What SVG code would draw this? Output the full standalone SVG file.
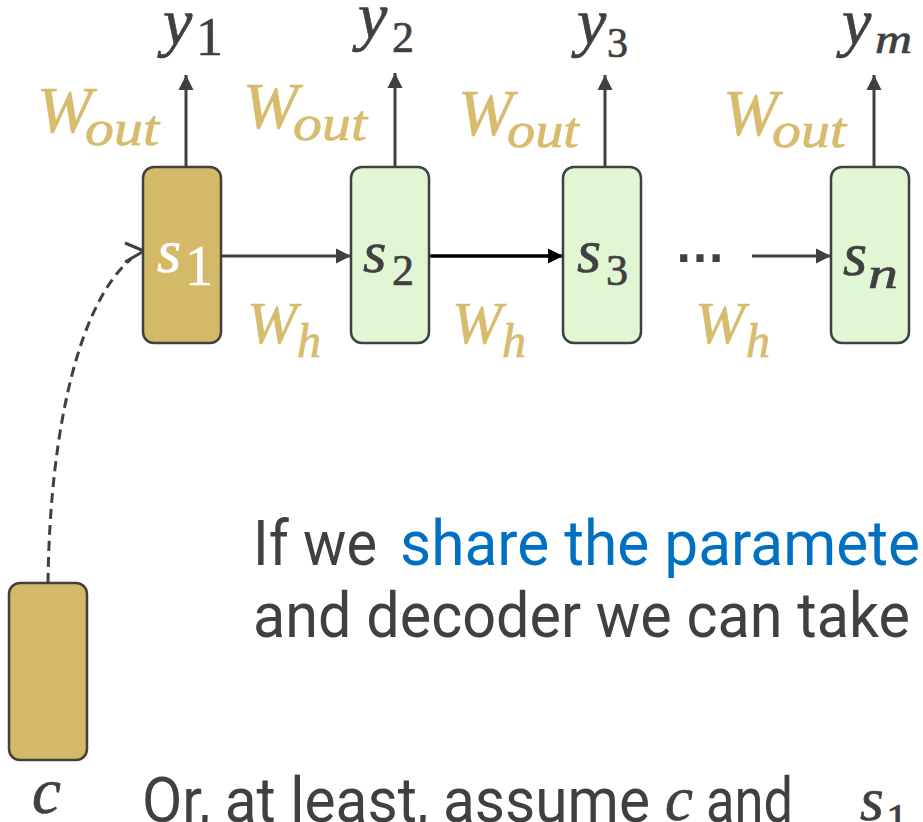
<svg xmlns="http://www.w3.org/2000/svg" width="923" height="822" viewBox="0 0 923 822">
<defs>
<style>
.box{stroke:#404040;stroke-width:2.5}
.tan{fill:#D4B968}
.grn{fill:#E1F6D2}
.m{font-family:"Liberation Serif","DejaVu Serif",serif;font-style:italic;stroke-width:0.7}
.dk{fill:#404040;stroke:#404040}
.gold{fill:#D6BC6C;stroke:#D6BC6C}
.wt{fill:#FFFFFF;stroke:#FFFFFF}
.sans{font-family:Roboto,"Noto Sans",sans-serif;font-size:63px}
.sans.dk{stroke:none}
.ln{stroke:#404040;stroke-width:3;fill:none}
</style>
<marker id="ah" markerWidth="16" markerHeight="16" refX="15" refY="8" orient="auto" markerUnits="userSpaceOnUse"><path d="M0,0.5 L15,8 L0,15.5 z" fill="#404040"/></marker>
<marker id="ahb" markerWidth="16" markerHeight="16" refX="15" refY="8" orient="auto" markerUnits="userSpaceOnUse"><path d="M0,0.5 L15,8 L0,15.5 z" fill="#000000"/></marker>
</defs>
<rect width="923" height="822" fill="#FFFFFF"/>

<g id="connectors">
<line class="ln" x1="186" y1="167" x2="186" y2="75" marker-end="url(#ah)"/>
<line class="ln" x1="395" y1="167" x2="395" y2="73" marker-end="url(#ah)"/>
<line class="ln" x1="605" y1="167" x2="605" y2="75" marker-end="url(#ah)"/>
<line class="ln" x1="874" y1="167" x2="874" y2="75" marker-end="url(#ah)"/>
<line class="ln" x1="221" y1="256" x2="351" y2="256" marker-end="url(#ah)"/>
<line x1="429" y1="256" x2="563" y2="256" stroke="#000000" stroke-width="3.5" marker-end="url(#ahb)"/>
<line class="ln" x1="752" y1="256" x2="831" y2="256" marker-end="url(#ah)"/>
<path class="ln" d="M48,583 C50,420 82,300 131,259" stroke-dasharray="10 6" stroke-width="3.2"/>
<polyline class="ln" points="125,243 144,251 125,262" stroke-linejoin="miter"/>
</g>

<g id="node-s1">
<rect class="box tan" x="143" y="167" width="78" height="176" rx="11"/>
<text class="m wt" x="157" y="272" font-size="62">s</text>
<text class="m wt" x="185" y="285" font-size="56" style="font-style:normal">1</text>
</g>
<g id="node-s2">
<rect class="box grn" x="351" y="167" width="78" height="176" rx="11"/>
<text class="m dk" x="363" y="272" font-size="60">s</text>
<text class="m dk" x="392" y="285" font-size="44" style="font-style:normal">2</text>
</g>
<g id="node-s3">
<rect class="box grn" x="563" y="167" width="78" height="176" rx="11"/>
<text class="m dk" x="577" y="272" font-size="62">s</text>
<text class="m dk" x="606" y="285" font-size="44" style="font-style:normal">3</text>
</g>
<g id="node-sn">
<rect class="box grn" x="831" y="167" width="78" height="176" rx="11"/>
<text class="m dk" x="843" y="275" font-size="62">s</text>
<text class="m dk" x="868" y="288" font-size="44" textLength="30" lengthAdjust="spacingAndGlyphs">n</text>
</g>
<g id="node-c">
<rect class="box tan" x="9" y="583" width="78" height="177" rx="11"/>
<text class="m dk" x="32" y="813" font-size="65">c</text>
</g>

<g id="outputs">
<text class="m dk" x="163" y="44" font-size="66">y</text>
<text class="m dk" x="196" y="55" font-size="54" style="font-style:normal">1</text>
<text class="m dk" x="358" y="38" font-size="66">y</text>
<text class="m dk" x="392" y="52" font-size="44" style="font-style:normal">2</text>
<text class="m dk" x="577" y="44" font-size="66">y</text>
<text class="m dk" x="607" y="57" font-size="42" style="font-style:normal">3</text>
<text class="m dk" x="842" y="44" font-size="66">y</text>
<text class="m dk" x="875" y="53" font-size="42" textLength="37" lengthAdjust="spacingAndGlyphs">m</text>
</g>

<g id="weights">
<text class="m gold" x="37" y="132" font-size="66">W</text>
<text class="m gold" x="85" y="145" font-size="50" textLength="74" lengthAdjust="spacingAndGlyphs">out</text>
<text class="m gold" x="243" y="128" font-size="66">W</text>
<text class="m gold" x="293" y="140" font-size="50" textLength="74" lengthAdjust="spacingAndGlyphs">out</text>
<text class="m gold" x="458" y="135" font-size="66">W</text>
<text class="m gold" x="507" y="147" font-size="50" textLength="72" lengthAdjust="spacingAndGlyphs">out</text>
<text class="m gold" x="723" y="135" font-size="66">W</text>
<text class="m gold" x="772" y="147" font-size="50" textLength="74" lengthAdjust="spacingAndGlyphs">out</text>
<text class="m gold" x="247" y="343" font-size="60">W</text>
<text class="m gold" x="297" y="357" font-size="48">h</text>
<text class="m gold" x="452" y="343" font-size="60">W</text>
<text class="m gold" x="502" y="357" font-size="48">h</text>
<text class="m gold" x="695" y="343" font-size="60">W</text>
<text class="m gold" x="746" y="357" font-size="48">h</text>
<text x="700" y="262" font-family="Liberation Sans, sans-serif" font-weight="bold" font-size="51" text-anchor="middle" fill="#404040">…</text>
</g>

<g id="text">
<text class="sans dk" x="253" y="565" textLength="124" lengthAdjust="spacingAndGlyphs">If we</text>
<text class="sans" x="400" y="565" fill="#0070C0" textLength="520" lengthAdjust="spacingAndGlyphs">share the paramete</text>
<text class="sans dk" x="253" y="637" textLength="657" lengthAdjust="spacingAndGlyphs">and decoder we can take</text>
<text class="sans dk" x="142" y="822" textLength="508" lengthAdjust="spacingAndGlyphs">Or, at least, assume</text>
<text class="m dk" x="665" y="820" font-size="63">c</text>
<text class="sans dk" x="706" y="822" textLength="87" lengthAdjust="spacingAndGlyphs">and</text>
<text class="m dk" x="860" y="820" font-size="61">s</text>
<text class="m dk" x="886" y="834" font-size="44" style="font-style:normal">1</text>
</g>
</svg>
